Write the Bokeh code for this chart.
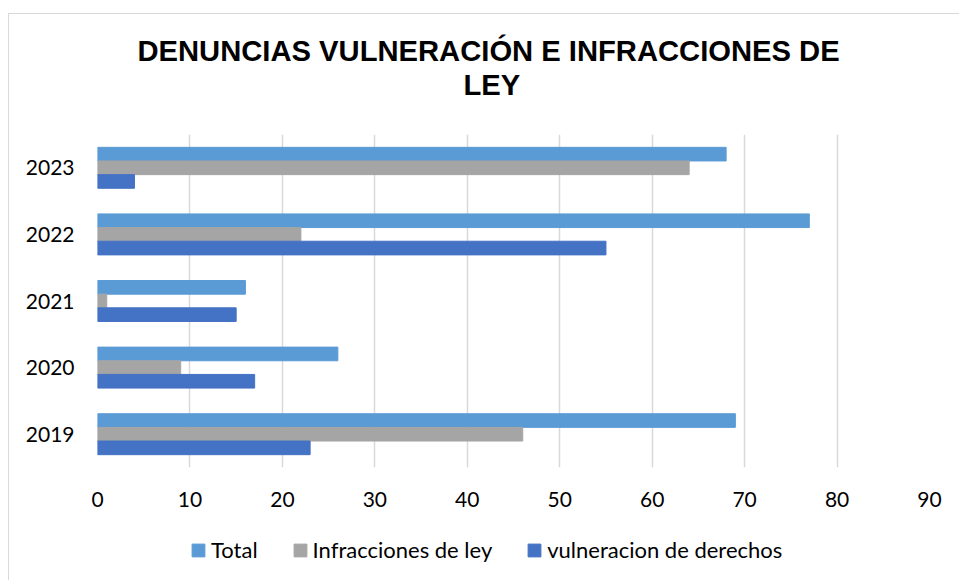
from bokeh.plotting import figure
from bokeh.layouts import column
from bokeh.models import FactorRange, Range1d, Legend, LegendItem, FixedTicker, ColumnDataSource, Title
from bokeh.transform import dodge
from bokeh.embed import file_html
from bokeh.resources import INLINE

years = ["2019", "2020", "2021", "2022", "2023"]
total = [69, 26, 16, 77, 68]
infracciones = [46, 9, 1, 22, 64]
vulneracion = [23, 17, 15, 55, 4]
x_ticks = [0, 10, 20, 30, 40, 50, 60, 70, 80, 90]
series_names = ["Total", "Infracciones de ley", "vulneracion de derechos"]
colors = ["#5B9BD5", "#A5A5A5", "#4472C4"]
title_lines = ["DENUNCIAS VULNERACIÓN E INFRACCIONES DE", "LEY"]

source = ColumnDataSource(dict(year=years, total=total, inf=infracciones, vul=vulneracion))

p = figure(width=950, height=503,
           y_range=FactorRange(factors=years),
           x_range=Range1d(0, 90),
           output_backend="svg", toolbar_location=None, title=None,
           min_border_left=88, min_border_right=30,
           min_border_top=120, min_border_bottom=50)

title_style = dict(text_font="Liberation Sans", text_font_style="bold",
                   text_font_size="29.2px", text_color="#000000", standoff=0)
# nearest to the plot first: a blank spacer, then the two title lines
p.add_layout(Title(text=" ", align="left", **title_style), "above")
p.add_layout(Title(text=title_lines[1], align="left", offset=366, **title_style), "above")
p.add_layout(Title(text=title_lines[0], align="left", offset=40, **title_style), "above")

bh = 0.205
r1 = p.hbar(y=dodge("year", bh, range=p.y_range), left=0, right="total", height=bh,
            source=source, fill_color=colors[0], line_color=colors[0])
r2 = p.hbar(y=dodge("year", 0, range=p.y_range), left=0, right="inf", height=bh,
            source=source, fill_color=colors[1], line_color=colors[1])
r3 = p.hbar(y=dodge("year", -bh, range=p.y_range), left=0, right="vul", height=bh,
            source=source, fill_color=colors[2], line_color=colors[2])

p.xaxis.ticker = FixedTicker(ticks=x_ticks)
for ax in (p.xaxis, p.yaxis):
    ax.axis_line_color = None
    ax.major_tick_line_color = None
    ax.minor_tick_line_color = None
    ax.major_label_text_font = "Lato"
    ax.major_label_text_font_size = "21px"
    ax.major_label_text_color = "#000000"
p.xaxis.major_label_standoff = 18
p.yaxis.major_label_standoff = 17

p.ygrid.grid_line_color = None
p.xgrid.grid_line_color = "#d9d9d9"
p.xgrid.grid_line_width = 1.5
p.outline_line_color = None

# legend strip below the chart (legend keys reuse the same series, hidden here)
p2 = figure(width=950, height=63, output_backend="svg", toolbar_location=None,
            x_axis_location=None, y_axis_location=None, min_border=0, title=None)
p2.grid.visible = False
p2.outline_line_color = None
key = []
for name, field, c in zip(series_names, ["total", "inf", "vul"], colors):
    rr = p2.hbar(y=0, left=0, right=field, height=1, source=source,
                 fill_color=c, line_color=c, visible=False)
    key.append(LegendItem(label=name, renderers=[rr]))

legend = Legend(items=key, orientation="horizontal", location=(93, 17),
                border_line_color=None, background_fill_alpha=0,
                inactive_fill_alpha=0,
                glyph_width=16, glyph_height=16, label_standoff=5, spacing=34,
                padding=0, margin=0,
                label_text_font="Lato", label_text_font_size="22px",
                label_text_color="#000000")
p2.add_layout(legend, "center")

layout = column(p, p2, styles={"margin-left": "8px", "margin-top": "13px",
                               "border-left": "1px solid #d9d9d9",
                               "border-top": "1px solid #d9d9d9"})

open("out.html", "w").write(file_html(layout, INLINE))
